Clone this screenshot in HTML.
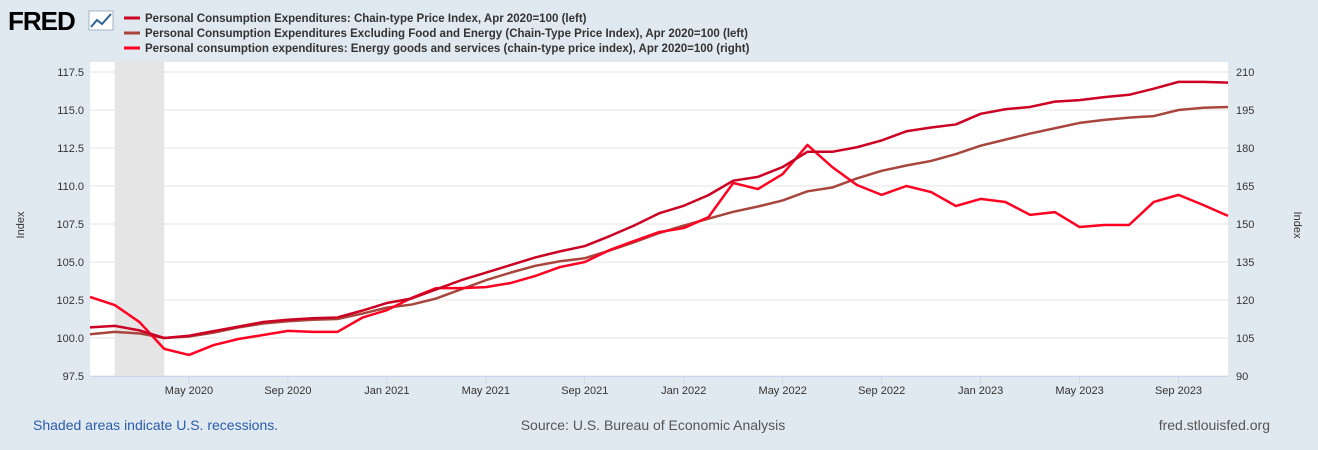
<!DOCTYPE html>
<html><head><meta charset="utf-8"><style>
body{margin:0;background:#e1e9f0;font-family:"Liberation Sans",Arial,sans-serif;}
#wrap{position:relative;width:1318px;height:450px;overflow:hidden;background:#e1e9f0}
</style></head><body>
<div id="wrap">
<svg id="chart" width="1318" height="450" xmlns="http://www.w3.org/2000/svg">
  <g>
    <text x="8" y="30" font-size="26" font-weight="bold" fill="#000" font-family="Liberation Sans, sans-serif" letter-spacing="-1">FRED</text>
    <rect x="89" y="11" width="24" height="19" fill="#fff" stroke="#9fb4c8"/>
    <polyline points="91,27 97,20 102,24 111,14" fill="none" stroke="#2a6496" stroke-width="2"/>
  </g>
  <g font-size="11.5" font-weight="bold" fill="#333">
    <g><line x1="124" y1="18" x2="140" y2="18" stroke="#cc0022" stroke-width="3"/><text x="145" y="22">Personal Consumption Expenditures: Chain-type Price Index, Apr 2020=100 (left)</text></g>
    <g><line x1="124" y1="33" x2="140" y2="33" stroke="#a8463e" stroke-width="3"/><text x="145" y="37">Personal Consumption Expenditures Excluding Food and Energy (Chain-Type Price Index), Apr 2020=100 (left)</text></g>
    <g><line x1="124" y1="48" x2="140" y2="48" stroke="#ff0022" stroke-width="3"/><text x="145" y="52">Personal consumption expenditures: Energy goods and services (chain-type price index), Apr 2020=100 (right)</text></g>
  </g>
  <rect x="90" y="62" width="1138" height="314" fill="#fff"/>
  <g id="grid"></g><g id="rec"></g><g id="series"></g><g id="axes"></g>
  <text transform="translate(24,225) rotate(-90)" text-anchor="middle" font-size="11" fill="#333">Index</text>
  <text transform="translate(1294,225) rotate(90)" text-anchor="middle" font-size="11" fill="#333">Index</text>
  <text x="33" y="430" font-size="14" fill="#2a5ca8">Shaded areas indicate U.S. recessions.</text>
  <text x="653" y="430" text-anchor="middle" font-size="14" fill="#555">Source: U.S. Bureau of Economic Analysis</text>
  <text x="1270" y="430" text-anchor="end" font-size="14" fill="#555">fred.stlouisfed.org</text>
</svg></div>
<script>
const leftTicks=[97.5,100.0,102.5,105.0,107.5,110.0,112.5,115.0,117.5];
const rightTicks=[90,105,120,135,150,165,180,195,210];
const xTickLabels=["May 2020","Sep 2020","Jan 2021","May 2021","Sep 2021","Jan 2022","May 2022","Sep 2022","Jan 2023","May 2023","Sep 2023"];
const xTickIdx=[4,8,12,16,20,24,28,32,36,40,44];
const pce=[100.7,100.8,100.5,100.0,100.15,100.45,100.75,101.05,101.2,101.3,101.35,101.8,102.3,102.6,103.2,103.8,104.3,104.8,105.3,105.7,106.05,106.7,107.4,108.2,108.7,109.4,110.35,110.6,111.25,112.25,112.25,112.55,113.0,113.6,113.85,114.05,114.75,115.05,115.2,115.55,115.65,115.85,116.0,116.4,116.85,116.85,116.8];
const core=[100.25,100.4,100.3,100.0,100.1,100.35,100.7,100.95,101.1,101.2,101.25,101.6,102.0,102.2,102.6,103.2,103.8,104.3,104.75,105.05,105.25,105.75,106.3,106.9,107.4,107.85,108.3,108.65,109.05,109.65,109.9,110.5,111.0,111.35,111.65,112.1,112.65,113.05,113.45,113.8,114.15,114.35,114.5,114.6,115.0,115.15,115.2];
const energy=[121.2,118.0,111.3,100.7,98.3,102.2,104.6,106.2,107.8,107.4,107.4,113.0,116.0,120.8,124.7,124.7,125.1,126.7,129.5,133.0,135.0,139.7,143.3,146.8,148.4,152.7,166.2,163.8,169.7,181.2,172.5,165.4,161.5,165.0,162.6,157.1,159.9,158.7,153.6,154.7,148.8,149.6,149.6,158.7,161.5,157.5,153.2];
const recession=[1,3];
const X0=90,X1=1228,Y0=72,Y1=376;
const n=pce.length;
const x=i=>X0+i*(X1-X0)/(n-1);
const yL=v=>Y1-(v-97.5)/(117.5-97.5)*(Y1-Y0);
const yR=v=>Y1-(v-90)/(210-90)*(Y1-Y0);
const NS="http://www.w3.org/2000/svg";
function mk(tag,attrs,parent){const e=document.createElementNS(NS,tag);for(const k in attrs)e.setAttribute(k,attrs[k]);parent.appendChild(e);return e;}
const grid=document.getElementById('grid'),axes=document.getElementById('axes'),rec=document.getElementById('rec'),ser=document.getElementById('series');
leftTicks.forEach((t,i)=>{
  const yy=yL(t);
  const g=mk('line',{x1:X0,x2:X1,y1:yy,y2:yy,stroke:'#e6e6e6','stroke-width':1},grid);
  
  
  const tl=mk('text',{x:X0-6,y:yy+4,'text-anchor':'end','font-size':11,fill:'#333'},axes);
  tl.textContent=t.toFixed(1);
  
  
  const tr=mk('text',{x:X1+8,y:yR(rightTicks[i])+4,'font-size':11,fill:'#333'},axes);
  tr.textContent=rightTicks[i];
  
  
});
const r=mk('rect',{x:x(recession[0]),y:Y0-10,width:x(recession[1])-x(recession[0]),height:Y1-Y0+10,fill:'#e5e5e5'},rec);


const xa=mk('line',{x1:X0,x2:X1,y1:Y1+0.5,y2:Y1+0.5,stroke:'#ccd6eb'},axes);


xTickIdx.forEach((ti,k)=>{
  const xx=x(ti);
  const tk=mk('line',{x1:xx,x2:xx,y1:Y1,y2:Y1+8,stroke:'#ccd6eb'},axes);
  
  
  const tl=mk('text',{x:xx,y:Y1+18,'text-anchor':'middle','font-size':11,fill:'#333'},axes);
  tl.textContent=xTickLabels[k];
  
  
});
function line(data,yf,color,name){
  const p=mk('polyline',{points:data.map((v,i)=>x(i)+','+yf(v)).join(' '),fill:'none',stroke:color,'stroke-width':2.5,'stroke-linejoin':'round'},ser);
  
  
}
line(core,yL,'#a8463e','line-core-pce');
line(energy,yR,'#ff0022','line-energy');
line(pce,yL,'#cc0022','line-pce');
</script>
</body></html>
